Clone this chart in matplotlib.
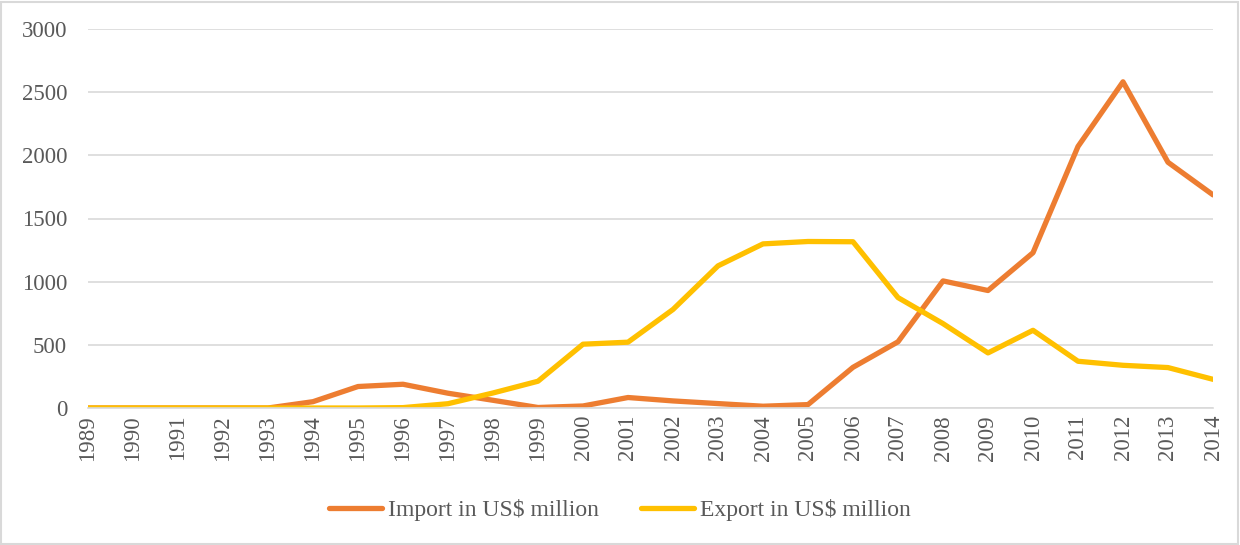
import matplotlib.pyplot as plt
from matplotlib.patches import Rectangle

# values (US$ million)
years = list(range(1989, 2015))
imports = [0, 0, 0, 0, 0, 50, 170, 188, 117, 61, 4, 16, 83, 56, 35, 14, 27,
           322, 524, 1006, 930, 1229, 2070, 2582, 1945, 1687]
exports = [0, 0, 0, 0, 0, 0, 0, 3, 34, 119, 212, 505, 521, 780, 1125, 1299, 1318,
           1316, 874, 668, 436, 615, 370, 338, 320, 227]

IMPORT_COLOR = '#ED7D31'
EXPORT_COLOR = '#FFC000'
TEXT_COLOR = '#595959'
GRID_COLOR = '#D9D9D9'

plt.rcParams['font.family'] = ['Liberation Serif', 'DejaVu Serif']

fig = plt.figure(figsize=(12.4, 5.45), dpi=100)
ax = fig.add_axes([88 / 1240, 1 - 408 / 545, (1213 - 88) / 1240, (408 - 29) / 545])

ax.plot(years, imports, color=IMPORT_COLOR, linewidth=3.8, label='Import in US$ million',
        solid_joinstyle='round', solid_capstyle='round')
ax.plot(years, exports, color=EXPORT_COLOR, linewidth=3.8, label='Export in US$ million',
        solid_joinstyle='round', solid_capstyle='round')

ax.set_xlim(years[0], years[-1])
ax.set_ylim(0, 3000)
ax.set_yticks(range(0, 3001, 500))
ax.set_xticks(years)
ax.set_xticklabels([str(y) for y in years], rotation=90)
ax.tick_params(axis='both', length=0, labelsize=16.5, colors=TEXT_COLOR)
ax.tick_params(axis='y', pad=15)
ax.tick_params(axis='x', pad=5)
ax.grid(axis='y', color=GRID_COLOR, linewidth=1.2)
ax.set_axisbelow(True)
for side in ['top', 'right', 'left']:
    ax.spines[side].set_visible(False)
ax.spines['bottom'].set_color(GRID_COLOR)
ax.spines['bottom'].set_linewidth(1.2)

leg = fig.legend(loc='center', bbox_to_anchor=(0.5, 1 - 510 / 545), ncol=2, frameon=False,
                 fontsize=17, handlelength=2.25, handletextpad=0.25, columnspacing=1.8)
for t in leg.get_texts():
    t.set_color(TEXT_COLOR)

# light border around the whole chart area
fig.patches.append(Rectangle((0.001, 0.002), 0.997, 0.995, transform=fig.transFigure,
                             fill=False, edgecolor='#D9D9D9', linewidth=1.5))

fig.savefig('out.png', dpi=100)
